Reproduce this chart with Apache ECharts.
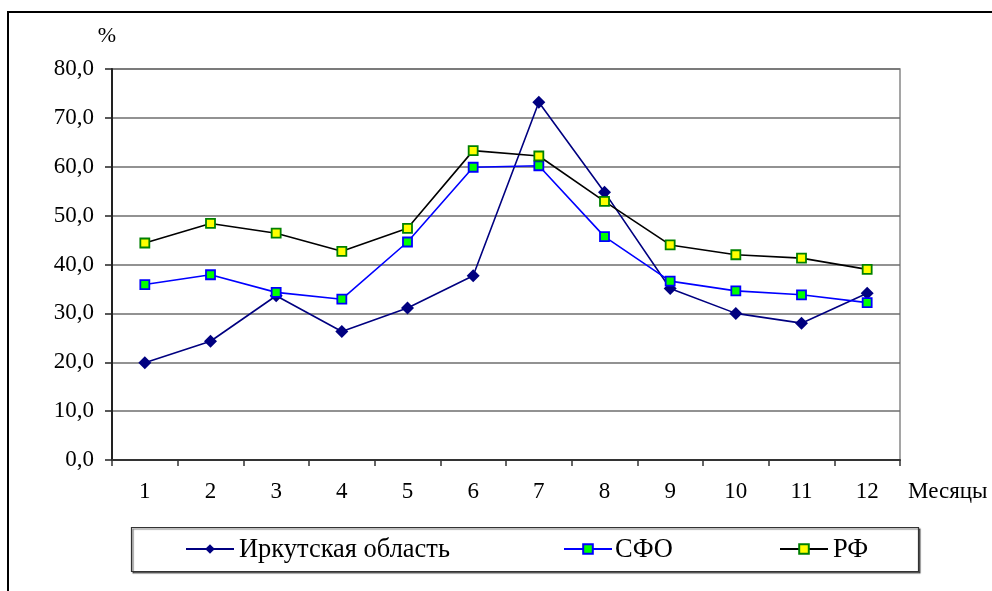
<!DOCTYPE html>
<html>
<head>
<meta charset="utf-8">
<script src="https://cdn.jsdelivr.net/npm/echarts@6/dist/echarts.min.js"></script>
<style>
html,body{margin:0;padding:0;background:#fff;}
#chart{width:992px;height:591px;}
</style>
</head>
<body>
<div id="chart"></div>
<script>
const months = ['1','2','3','4','5','6','7','8','9','10','11','12'];
const seriesNames = ['Иркутская область','СФО','РФ'];
const irkutsk = [19.9,24.3,33.6,26.3,31.1,37.7,73.2,54.8,35.1,30.0,28.0,34.1];
const sfo = [35.9,37.9,34.3,32.9,44.6,59.9,60.2,45.7,36.6,34.6,33.8,32.2];
const rf = [44.4,48.4,46.4,42.7,47.4,63.3,62.2,52.9,44.0,42.0,41.3,39.0];
const yTicks = {min:0, max:80, interval:10};

const FONT = 'Liberation Serif';
const legendIconX = [185, 563, 779];
const legendTextX = [239, 615, 833];
const legendY = 549;

const legends = seriesNames.map((n,i)=>({
  left:legendIconX[i], top:legendY-6, padding:0,
  itemWidth:48, itemHeight:12,
  formatter:()=>'',
  selectedMode:false,
  data:[n]
}));

const chart = echarts.init(document.getElementById('chart'), null, {renderer:'canvas'});
chart.setOption({
  animation:false,
  backgroundColor:'#fff',
  textStyle:{fontFamily:FONT},
  graphic:[
    {type:'rect', shape:{x:8, y:12, width:1100, height:700},
     style:{fill:'none', stroke:'#000', lineWidth:2}, z:-1},
    {type:'rect', shape:{x:131.5, y:527.5, width:787, height:44},
     style:{fill:'#fff', stroke:'#333', lineWidth:1.2, shadowColor:'rgba(0,0,0,0.55)', shadowOffsetX:1.5, shadowOffsetY:1.5, shadowBlur:1}, z:0},
    ...seriesNames.map((n,i)=>({
      type:'text', x:legendTextX[i], y:legendY+1, z:10, scaleX:1.15, scaleY:1.17,
      style:{text:n, fontFamily:FONT, fontSize:23, fill:'#000', verticalAlign:'middle', align:'left'}
    }))
  ],
  grid:{left:112, right:92, top:69, bottom:131, show:true, borderColor:'#888', borderWidth:1.5, backgroundColor:'transparent'},
  legend:legends,
  xAxis:{
    type:'category', data:months, boundaryGap:true,
    name:'Месяцы', nameLocation:'end', nameGap:8,
    nameTextStyle:{fontFamily:FONT, fontSize:23, color:'#000', verticalAlign:'top', align:'left', padding:[20,0,0,0]},
    axisLine:{lineStyle:{color:'#333', width:2}},
    axisTick:{show:true, length:6, inside:false, lineStyle:{color:'#333', width:1.5}},
    axisLabel:{fontFamily:FONT, fontSize:23, color:'#000', margin:20},
    splitLine:{show:false}
  },
  yAxis:{
    type:'value', min:yTicks.min, max:yTicks.max, interval:yTicks.interval,
    name:'%', nameLocation:'end', nameGap:22,
    nameTextStyle:{fontFamily:FONT, fontSize:22, color:'#000', align:'center', padding:[0,10,0,0]},
    axisLine:{show:true, lineStyle:{color:'#222', width:2}},
    axisTick:{show:true, length:7, lineStyle:{color:'#222', width:1.5}},
    axisLabel:{fontFamily:FONT, fontSize:23, color:'#000', margin:18,
      formatter:v=>v.toFixed(1).replace('.',',')},
    splitLine:{show:true, lineStyle:{color:'#6e6e6e', width:1.5}}
  },
  series:[
    {name:seriesNames[0], type:'line', data:irkutsk, symbol:'diamond', symbolSize:13,
     lineStyle:{color:'#000080', width:1.6}, itemStyle:{color:'#000080', borderColor:'#000080', borderWidth:0}, z:3},
    {name:seriesNames[1], type:'line', data:sfo, symbol:'rect', symbolSize:9,
     lineStyle:{color:'#0000ff', width:1.6}, itemStyle:{color:'#00ff00', borderColor:'#0000ff', borderWidth:1.8}, z:4},
    {name:seriesNames[2], type:'line', data:rf, symbol:'rect', symbolSize:9,
     lineStyle:{color:'#000000', width:1.6}, itemStyle:{color:'#ffff00', borderColor:'#008000', borderWidth:1.8}, z:5}
  ]
});
</script>
</body>
</html>
